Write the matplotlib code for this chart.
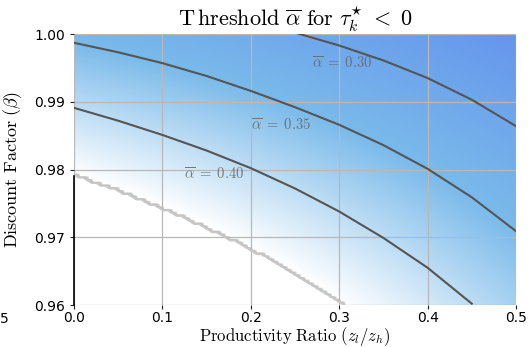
import numpy as np
import matplotlib.pyplot as plt
from matplotlib.colors import LinearSegmentedColormap

plt.rcParams['mathtext.fontset'] = 'cm'

# contour lines of the threshold alpha (x = z_l/z_h, y = beta)
a30_x = [0.25, 0.30, 0.35, 0.40, 0.45, 0.50]
a30_y = [1.0002, 0.9983, 0.9961, 0.9935, 0.9903, 0.9864]

a35_x = [0.00, 0.05, 0.10, 0.15, 0.20, 0.25, 0.30, 0.35, 0.40, 0.45, 0.50]
a35_y = [0.9987, 0.9973, 0.9957, 0.9938, 0.9916, 0.9892, 0.9866, 0.9836, 0.9801, 0.9759, 0.9709]

a40_x = [0.00, 0.05, 0.10, 0.15, 0.20, 0.25, 0.30, 0.35, 0.40, 0.45]
a40_y = [0.9891, 0.9872, 0.9851, 0.9828, 0.9802, 0.9772, 0.9738, 0.9699, 0.9655, 0.9602]

# edge of the region where the threshold exists
edge_x = [0.00, 0.05, 0.10, 0.15, 0.20, 0.25, 0.30, 0.306]
edge_y = [0.9791, 0.9768, 0.9742, 0.9713, 0.9682, 0.9645, 0.9605, 0.9600]
edge_level = 0.45

lines = [(0.30, a30_x, a30_y), (0.35, a35_x, a35_y), (0.40, a40_x, a40_y)]
label_pos = {0.30: (0.303, 0.9957), 0.35: (0.234, 0.9866), 0.40: (0.159, 0.9793)}

# smooth surface through the read contours, used only for the shading
px, py, pz = [], [], []
for lev, xs, ys in lines + [(edge_level, edge_x, edge_y)]:
    px += xs
    py += ys
    pz += [lev] * len(xs)
px, py, pz = np.array(px), (np.array(py) - 0.98) * 10, np.array(pz)
A = np.column_stack([np.ones_like(px), px, py, px**2, px * py, py**2])
coef = np.linalg.lstsq(A, pz, rcond=None)[0]

gx = np.linspace(0, 0.5, 100)
gy = np.linspace(0.96, 1.0, 100)
X, Y = np.meshgrid(gx, gy)
Yn = (Y - 0.98) * 10
Z = coef[0] + coef[1] * X + coef[2] * Yn + coef[3] * X**2 + coef[4] * X * Yn + coef[5] * Yn**2
valid = Y >= np.interp(X, edge_x, edge_y)
Zm = np.where(valid, Z, np.nan)

cmap = LinearSegmentedColormap.from_list('thr', [(0, '#6495ED'), (0.5, '#7ABAEA'), (1, '#FFFFFF')])

fig = plt.figure(figsize=(5.29, 3.47), dpi=100)
ax = fig.add_axes([0.14, 0.121, 0.8354, 0.781])

ax.imshow(Zm, extent=[0, 0.5, 0.96, 1.0], origin='lower', aspect='auto',
          cmap=cmap, vmin=0.25, vmax=0.45, interpolation='bilinear', zorder=0)
ax.contour(X, Y, valid.astype(float), levels=[0.5], colors='#c8c8c8', linewidths=1.2)
ax.plot([0, 0], [0.96, edge_y[0]], color='black', lw=1.2, clip_on=False)

for lev, xs, ys in lines:
    ax.plot(xs, ys, color='#555555', lw=1.5)
    tx, ty = label_pos[lev]
    ax.text(tx, ty, r'$\overline{\alpha}\;=\;%.2f$' % lev, color='#666666', alpha=0.85,
            fontsize=10.5, ha='center', va='center')

ax.set_xlim(0, 0.5)
ax.set_ylim(0.96, 1.0)
ax.set_xticks([0.0, 0.1, 0.2, 0.3, 0.4, 0.5])
ax.set_yticks([0.96, 0.97, 0.98, 0.99, 1.00])
ax.set_yticklabels(['0.96', '0.97', '0.98', '0.99', '1.00'])
ax.grid(True, color='#b8b8b8', lw=0.9)
for s in ax.spines.values():
    s.set_visible(False)
ax.tick_params(labelsize=10, length=3, colors='#222222', labelcolor='black')
ax.tick_params(axis='x', pad=1.5)

ax.set_title(r'$\mathrm{T\,hreshold}\ \overline{\alpha}\ \mathrm{for}\ \tau_k^{\star}\ <\ 0$', fontsize=16, pad=5)
ax.set_xlabel(r'$\mathrm{Productivity\ Ratio}\ (z_l/z_h)$', fontsize=12, labelpad=-0.5)
ax.set_ylabel(r'$\mathrm{Discount\ Factor}\ (\beta)$', fontsize=13, labelpad=7)
fig.text(0.0, 0.081, '5', fontsize=10, va='center')

fig.savefig('out.png', dpi=100)
